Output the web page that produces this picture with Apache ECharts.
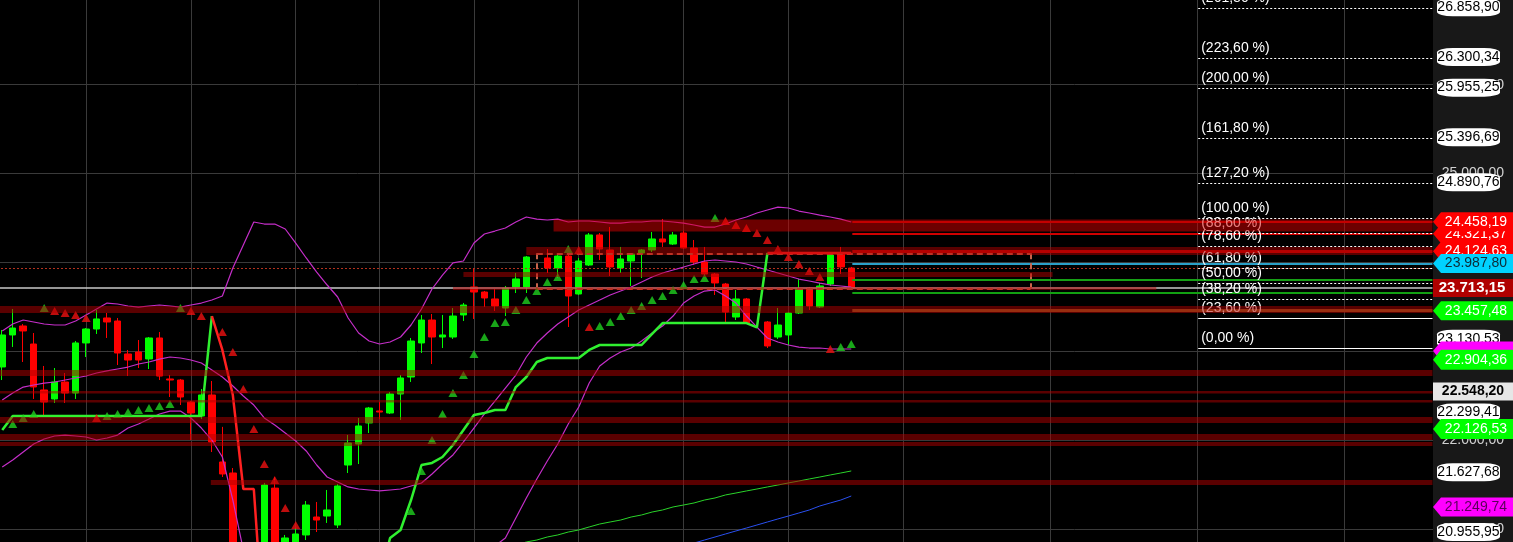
<!DOCTYPE html>
<html>
<head>
<meta charset="utf-8">
<script src="https://cdn.jsdelivr.net/npm/echarts@6/dist/echarts.min.js"></script>
<style>
html,body{margin:0;padding:0;background:#000;overflow:hidden;}
#chart{width:1513px;height:542px;}
</style>
</head>
<body>
<div id="chart"></div>
<script>
// ---------------- DATA ----------------
const categories = Array.from({length: 137}, (_, i) => 'B' + (i + 1));

const open = [22824,23184,23285,23082,22565,22464,22655,22531,23094,23251,
  23375,23341,22970,22992,22914,23150,22689,22677,22430,22272,
  22509,21755,21631,20484,19865,20202,21461,20484,20652,20934,
  21136,21147,21046,21721,21957,22194,22329,22306,22520,22711,
  23094,23352,23161,23161,23409,23724,23667,23589,23487,23724,
  23724,null,24050,23937,24072,23645,23971,24309,24140,23937,
  24016,24106,24140,24264,24207,24331,24162,24005,23870,23757,
  23386,23589,null,23330,23161,23184,23431,23712,23499,23757,
  24095,23937];
const close = [23184,23262,23229,22599,22430,22655,22531,23094,23251,23364,
  23330,22981,22902,22902,23150,22722,22677,22486,22306,22509,
  21980,21620,20540,19977,20315,21496,20427,20900,20945,21271,
  21102,21215,21485,21969,22160,22362,22317,22520,22700,23116,
  23352,23161,23184,23397,23521,23667,23600,23510,23712,23814,
  24061,null,23937,24072,23622,24016,24309,24151,23949,24039,
  24095,24140,24264,24230,24309,24162,24005,23870,23769,23442,
  23589,23319,null,23060,23296,23431,23701,23510,23735,24084,
  23949,23713.15];
const low = [22677,23049,22880,22464,22261,22419,22419,22464,22936,23195,
  23150,22846,22722,22812,22801,22677,22486,22396,22002,22239,
  21867,21586,20427,19752,19640,20090,20315,20371,20596,20877,
  20967,21069,21012,21631,21732,22081,22239,22295,22227,22655,
  22981,22857,23037,23139,23341,23364,23499,23454,23397,23656,
  23656,null,23881,23825,23274,23634,23960,24027,23847,23881,
  23735,23825,24117,24174,24196,24151,23971,23859,23634,23330,
  23352,23307,null,23037,23139,23071,23420,23465,23487,23735,
  23870,23701];
const high = [23240,23476,23307,23206,22835,22812,22756,23116,23262,23465,
  23431,23375,23015,23127,23161,23217,22734,22689,22441,22576,
  22666,22150,21687,20652,20427,21519,21586,20934,21012,21316,
  21305,21440,21507,22059,22250,22374,22430,22542,22734,23150,
  23409,23420,23409,23487,23544,23937,23679,23701,23735,23881,
  24072,null,24151,24084,24106,24050,24331,24331,24399,24174,
  24106,24151,24342,24489,24342,24354,24252,24174,23881,23769,
  23690,23600,null,23341,23487,23442,23814,23724,23769,24095,
  24174,23949];

const bbUpper = [23229,23307,23352,23330,23307,23296,23296,23341,23409,23476,
  23543,23532,23510,23498,23510,23521,23510,23498,23521,23543,
  23577,23622,23937,24196,24455,24432,24432,24376,24218,24050,
  23892,23746,23611,23375,23206,23116,23082,23105,23161,23296,
  23476,23701,23858,23994,24016,24218,24320,24353,24387,24455,
  24511,24488,24477,24488,24455,24466,24466,24455,24443,24443,
  24455,24455,24466,24466,24455,24443,24421,24398,24398,24432,
  24477,24511,24556,24590,24623,24612,24578,24556,24533,24511,
  24488,24455];
const bbMiddle = [22452,22531,22598,22621,22643,22655,22677,22700,22722,22756,
  22779,22801,22823,22857,22880,22913,22936,22925,22902,22868,
  22790,22711,22610,22497,22396,22250,22171,22081,21991,21879,
  21721,21586,21530,21474,21451,21440,21429,21440,21451,21485,
  21519,21620,21732,21834,21980,22137,22295,22441,22587,22733,
  22936,23093,23206,23307,23386,23465,23521,23577,23633,23678,
  23723,23780,23836,23881,23915,23948,23982,24016,24027,24016,
  24005,23982,23948,23915,23881,23847,23813,23791,23768,23746,
  23735,23723];
const bbLower = [21698,21777,21867,21957,22013,22047,22058,22047,22036,22002,
  22025,22058,22137,22182,22238,22295,22328,22328,22250,22137,
  22002,21811,21327,20765,20315,19865,19527,19246,19077,18965,
  18909,18909,18965,19077,19246,19415,19640,19865,20090,20258,
  20427,20540,20630,20708,20742,20765,20787,20810,20900,21125,
  21350,21564,21766,21957,22182,22373,22643,22835,22925,22992,
  23037,23116,23206,23285,23397,23543,23622,23678,23690,23622,
  23543,23397,23273,23150,23105,23071,23048,23037,23037,23026,
  23026,23026];

// trailing-stop line (green = long, red = short)
const stopLong = [22115,22272,22272,22272,22272,22272,22272,22272,22272,22272,
  22272,22272,22272,22272,22272,22272,22272,22272,22272,22272,
  23397,null,null,null,null,null,null,null,null,null,
  null,null,null,null,19752,20202,20427,20900,20990,21327,
  21721,21744,21811,21946,22115,22284,22306,22340,22340,22598,
  22711,22880,22925,22925,22925,22925,23015,23071,23071,23071,
  23071,23071,23195,23318,23318,23318,23318,23318,23318,23318,
  23318,23318,23270,24106,null,null,null,null,null,null,
  null,null];
const stopShort = [null,null,null,null,null,null,null,null,null,null,
  null,null,null,null,null,null,null,null,null,null,
  23397,23015,22508,21451,21451,19752,19752,19752,19752,19752,
  19752,19752,19752,19752,19752,null,null,null,null,null,
  null,null,null,null,null,null,null,null,null,null,
  null,null,null,null,null,null,null,null,null,null,
  null,null,null,null,null,null,null,null,null,null,
  null,null,null,24106,24106,24106,24106,24106,24106,24106,
  24106,24106];

// parabolic SAR dots
const sarUpIdx = [1,2,3,4,10,11,12,13,14,15,16,17,39,40,41,42,43,44,45,46,47,48,49,50,51,52,53,54,57,58,59,60,61,62,63,64,65,66,67,68,80,81];
const sarUpVal = [22182,22250,22295,23487,22272,22295,22317,22340,22362,22385,22407,23487,21203,21653,22002,22295,22531,22733,22970,23161,23318,23330,23465,23577,23678,23780,23836,24151,23285,23330,23397,23465,23510,23577,23622,23690,23746,23813,23825,24500,23048,23082];
const sarDownIdx = [5,6,7,8,9,18,19,21,22,23,24,25,26,27,28,55,56,69,70,71,72,73,74,75,76,77,78,79];
const sarDownVal = [23453,23431,23409,23375,22250,23453,23397,23217,22992,22576,22126,21732,21552,21237,21046,24140,23273,24466,24421,24387,24331,24252,24151,24061,23982,23903,23836,23026];

// long moving averages
const maSlowStart = 48;
const maSlow = [20798,20821,20855,20877,20911,20934,20967,20990,21024,21057,21080,21102,21136,21159,21192,21215,21249,21271,21294,21327,21350,21384,21406,21429,21451,21474,21496,21519,21541,21564,21586,21609,21631,21654];
const maSlowerStart = 64;
const maSlower = [20787,20810,20843,20877,20911,20945,20979,21012,21046,21080,21114,21147,21181,21215,21260,21294,21327,21372];

// vertical time grid (bar index)
const timeGridIdx = [8,18,28,36,45,55,65,75,86,100,114,128];

// price scale ticks
const tickPrices = [21000,22000,23000,24000,25000,26000];

// support / resistance zones: top, bottom, from-index, to-index
const zoneTop    = [24483,24174,23892,23724,23510,22790,22554,22452,22261,22070,21980,21552];
const zoneBottom = [24348,24084,23836,23690,23431,22722,22525,22424,22194,22002,21935,21496];
const zoneFrom   = [52.6,50,44,43,-0.5,-0.5,-0.5,-0.5,-0.5,-0.5,-0.5,19.9];
const zoneTo     = [136.45,136.45,100.2,110.1,136.45,136.45,136.45,136.45,136.45,136.45,136.45,136.45];

// Fibonacci extension
const fibLabels = ['(261,80 %)','(223,60 %)','(200,00 %)','(161,80 %)','(127,20 %)','(100,00 %)','(88,60 %)','(78,60 %)','(61,80 %)','(50,00 %)','(38,20 %)','(23,60 %)','(0,00 %)'];
const fibPrices = [26858.90,26300.34,25955.25,25396.69,24890.76,24493.05,24326.30,24180.10,23934.50,23761.95,23589.40,23375.90,23030.85];
const fibFrom = 114.1;

// right-hand price level lines
const levelPrices = [24458.19,24321.37,24124.63,23987.80,23802.00,23656.00,23457.48];
const levelFrom = 81.1;
const lastPrice = 23713.15;
const dottedLevel = 23934.50;
const boxTop = 24102, boxBottom = 23704, boxFrom = 51, boxTo = 98.1;

// price-scale labels
const whiteBoxPrices = [26858.90,26300.34,25955.25,25396.69,24890.76,23130.53,22299.41,21627.68,20955.95];
const redTagPrices = [24124.63,24321.37,24458.19];
const cyanTagPrices = [23987.80];
const greenTagPrices = [23457.48,22904.36,22126.53];
const magentaTagPrices = [23003.00,21249.74];
const markedPrice = 22548.20;

// ---------------- CHART ----------------
const FONT = '"Liberation Sans", Arial, Helvetica, sans-serif';
const fmt = v => {
  const p = Number(v).toFixed(2).split('.');
  return p[0].replace(/\B(?=(\d{3})+(?!\d))/g, '.') + ',' + p[1];
};
const RIGHT = 136.45;

const candleData = open.map((o, i) => o == null ? ['-','-','-','-'] : [o, close[i], low[i], high[i]]);
const dash = v => (v == null ? '-' : v);

const series = [];

// vertical grid lines
series.push({
  type: 'line', xAxisIndex: 1, yAxisIndex: 0, data: [], silent: true, z: 1,
  markLine: {
    silent: true, z: 1, symbol: ['none','none'], label: {show: false},
    lineStyle: {color: '#3a3a3a', width: 1, type: 'solid'},
    data: timeGridIdx.map(v => ({xAxis: v}))
  }
});

// candles
series.push({
  type: 'candlestick', xAxisIndex: 0, yAxisIndex: 0, z: 2, barWidth: 7, silent: true,
  data: candleData,
  itemStyle: {color: '#00ff00', color0: '#ff0000', borderColor: '#00ff00', borderColor0: '#ff0000', borderWidth: 1}
});

const lineSeries = (data, color, width, z) => ({
  type: 'line', xAxisIndex: 0, yAxisIndex: 0, data: data, symbol: 'none', showSymbol: false,
  silent: true, z: z, connectNulls: false, lineStyle: {color: color, width: width}
});

series.push(lineSeries(bbUpper, '#c52ec9', 1.2, 3));
series.push(lineSeries(bbMiddle, '#c52ec9', 1.2, 3));
series.push(lineSeries(bbLower, '#c52ec9', 1.2, 3));
series.push(lineSeries(maSlow.map((v, k) => [maSlowStart + k, v]), '#2ad42a', 1, 3));
series.push(lineSeries(maSlower.map((v, k) => [maSlowerStart + k, v]), '#2a50f0', 1, 3));
series.push(lineSeries(stopLong.map(dash), '#30f030', 2.5, 3));
series.push(lineSeries(stopShort.map(dash), '#ff2020', 2.5, 3));

// SAR
series.push({
  type: 'scatter', xAxisIndex: 0, yAxisIndex: 0, z: 4, silent: true,
  symbol: 'triangle', symbolSize: [9, 8],
  itemStyle: {color: '#1fd01f'},
  data: sarUpIdx.map((i, k) => [i, sarUpVal[k]])
});
series.push({
  type: 'scatter', xAxisIndex: 0, yAxisIndex: 0, z: 4, silent: true,
  symbol: 'triangle', symbolSize: [9, 8],
  itemStyle: {color: '#ee1010'},
  data: sarDownIdx.map((i, k) => [i, sarDownVal[k]])
});

// level lines
const seg = (x0, p0, x1, p1, style) => [{coord: [x0, p0], lineStyle: style}, {coord: [x1, p1]}];
const levelStyles = [
  {color: '#b00000', width: 2, type: 'solid'},
  {color: '#d00000', width: 2, type: 'solid'},
  {color: '#b80000', width: 3, type: 'solid'},
  {color: '#2aa0c8', width: 2, type: 'solid'},
  {color: '#16a016', width: 2, type: 'solid'},
  {color: '#12a012', width: 2, type: 'solid'},
  {color: '#7c5a1e', width: 3, type: 'solid'}
];
const lineItems = [];
lineItems.push(seg(-0.5, dottedLevel, RIGHT, dottedLevel, {color: '#b4321e', width: 1, type: [2, 2]}));
levelPrices.forEach((p, k) => lineItems.push(seg(levelFrom, p, RIGHT, p, levelStyles[k])));
lineItems.push(seg(-0.5, lastPrice, RIGHT, lastPrice, {color: '#c8c8c8', width: 1.5, type: 'solid'}));
const boxStyle = {color: '#c8644b', width: 2, type: [6, 4]};
lineItems.push(seg(boxFrom, boxTop, boxTo, boxTop, boxStyle));
lineItems.push(seg(boxFrom, boxBottom, boxTo, boxBottom, boxStyle));
lineItems.push(seg(boxFrom, boxTop, boxFrom, boxBottom, boxStyle));
lineItems.push(seg(boxTo, boxTop, boxTo, boxBottom, boxStyle));
series.push({
  type: 'line', xAxisIndex: 1, yAxisIndex: 0, data: [], silent: true, z: 3,
  markLine: {silent: true, z: 3, symbol: ['none','none'], label: {show: false}, data: lineItems}
});

// Fibonacci lines + labels
series.push({
  type: 'line', xAxisIndex: 1, yAxisIndex: 0, data: [], silent: true, z: 3,
  markLine: {
    silent: true, z: 3, symbol: ['none','none'], label: {show: false},
    data: fibPrices.map((p, k) => [{
      coord: [fibFrom, p],
      lineStyle: {color: '#ffffff', width: 1, type: k >= 11 ? 'solid' : [2, 2]},
      label: {show: true, formatter: fibLabels[k], position: 'insideStartTop', distance: 3,
        color: '#ffffff', fontSize: 14, fontFamily: FONT}
    }, {coord: [RIGHT, p]}])
  }
});

// zones (semi-transparent, drawn above the price action)
series.push({
  type: 'line', xAxisIndex: 1, yAxisIndex: 0, data: [], silent: true, z: 6,
  markArea: {
    silent: true, z: 6, label: {show: false},
    data: zoneTop.map((t, k) => [{
      coord: [zoneFrom[k], t],
      itemStyle: {color: k === 0 ? 'rgba(215,0,0,0.5)' : 'rgba(180,0,0,0.5)'}
    }, {coord: [zoneTo[k], zoneBottom[k]]}])
  }
});

// price-scale tick labels (drawn beneath the value boxes)
series.push({
  type: 'scatter', xAxisIndex: 2, yAxisIndex: 1, z: 9, silent: true,
  symbol: 'circle', symbolSize: 0,
  data: tickPrices.map(p => [71, p]),
  label: {show: true, position: 'left', distance: 0, color: '#ffffff', fontSize: 14, fontFamily: FONT,
    formatter: prm => fmt(prm.value[1])}
});

// price-scale tags
let tagZ = 10;
const ARROW = 'path://M0,10L8,0L80,0L80,20L8,20Z';
const tag = (price, o) => {
  series.push({
    type: 'scatter', xAxisIndex: 2, yAxisIndex: 1, z: tagZ++, silent: true,
    data: [[o.x, price]], symbol: o.symbol, symbolSize: o.size, symbolOffset: o.shift || [0, 0],
    itemStyle: {color: o.bg, opacity: 1},
    label: {
      show: o.label !== false, position: 'inside', offset: o.offset || [0, 0],
      formatter: () => fmt(price), color: o.fg, fontSize: o.fs || 14,
      fontWeight: o.bold ? 'bold' : 'normal', fontFamily: FONT
    }
  });
};
whiteBoxPrices.forEach(p => tag(p, {x: 35.5, symbol: 'roundRect', size: [63, 18], shift: [0, -1], bg: '#ffffff', fg: '#000000'}));
redTagPrices.forEach(p => tag(p, {x: 40, symbol: ARROW, size: [80, 19], bg: '#ff0000', fg: '#ffffff', offset: [3, 0]}));
cyanTagPrices.forEach(p => tag(p, {x: 40, symbol: ARROW, size: [80, 19], bg: '#00d2ff', fg: '#0c2a36', offset: [3, 0]}));
tag(greenTagPrices[0], {x: 40, symbol: ARROW, size: [80, 19], bg: '#00ff00', fg: '#ffffff', offset: [3, 0]});
tag(magentaTagPrices[0], {x: 40, symbol: ARROW, size: [80, 19], bg: '#ff00ff', fg: '#5a005a', offset: [3, 0], label: false});
tag(greenTagPrices[1], {x: 40, symbol: ARROW, size: [80, 20], bg: '#00ff00', fg: '#ffffff', offset: [3, 0]});
tag(greenTagPrices[2], {x: 40, symbol: ARROW, size: [80, 20], bg: '#00ff00', fg: '#ffffff', offset: [3, 0]});
tag(magentaTagPrices[1], {x: 40, symbol: ARROW, size: [80, 19], bg: '#ff00ff', fg: '#5a005a', offset: [3, 0]});
tag(lastPrice, {x: 40, symbol: 'rect', size: [80, 18], bg: '#b00000', fg: '#ffffff', bold: true, fs: 15, offset: [-1, 0]});
tag(markedPrice, {x: 40, symbol: 'rect', size: [80, 18], bg: '#e6e6e6', fg: '#000000', bold: true});

const option = {
  backgroundColor: '#000000',
  animation: false,
  grid: [
    {left: -3, right: 80, top: -4.24, bottom: -75.98, show: false, outerBoundsMode: 'none', containLabel: false},
    {left: 1433, right: 0, top: -4.24, bottom: -75.98, show: true, backgroundColor: '#181818', borderWidth: 0, outerBoundsMode: 'none', containLabel: false}
  ],
  xAxis: [
    {type: 'category', gridIndex: 0, data: categories, boundaryGap: true, show: false},
    {type: 'value', gridIndex: 0, min: -0.5, max: 136.5, show: false},
    {type: 'value', gridIndex: 1, min: 0, max: 80, show: false}
  ],
  yAxis: [
    {type: 'value', gridIndex: 0, min: 20000, max: 27000, interval: 1000, scale: false,
      axisLine: {show: false}, axisTick: {show: false}, axisLabel: {show: false},
      splitLine: {show: true, lineStyle: {color: '#3a3a3a', width: 1}}},
    {type: 'value', gridIndex: 1, min: 20000, max: 27000, interval: 1000, position: 'right',
      axisLine: {show: false}, axisTick: {show: false}, splitLine: {show: false},
      axisLabel: {show: false}}
  ],
  series: series
};

const chart = echarts.init(document.getElementById('chart'), null, {renderer: 'canvas'});
chart.setOption(option);
</script>
</body>
</html>
